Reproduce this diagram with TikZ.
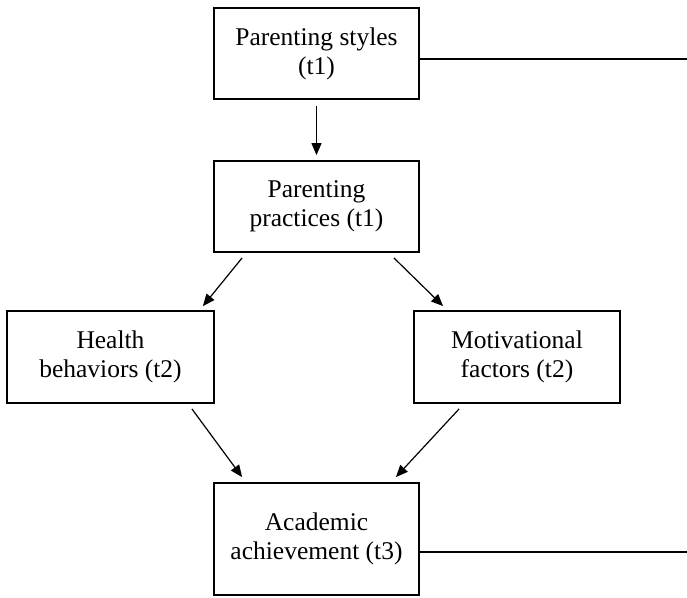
\documentclass[tikz,border=0pt]{standalone}
\usepackage{fontspec}
\setmainfont{Liberation Serif}
\usetikzlibrary{arrows.meta,positioning}

\begin{document}
\begin{tikzpicture}[x=1pt,y=1pt,
  box/.style={draw, line width=1.8pt, minimum width=205pt, minimum height=91pt,
    inner sep=0pt, align=center, font=\fontsize{25.5}{29}\selectfont},
  arr/.style={line width=1.2pt, -{Triangle[length=12pt,width=10pt]}},
  link/.style={line width=1.2pt}]
\useasboundingbox (0,0) rectangle (687,-597);
\node[box] (styles) at (316.5,-53.5) {Parenting styles\\(t1)};
\node[box] (prac) at (316.5,-206.5) {Parenting\\practices (t1)};
\node[box, minimum width=207pt, minimum height=92pt] (health) at (110.5,-357) {Health\\behaviors (t2)};
\node[box, minimum width=206pt, minimum height=92pt] (motiv) at (517,-357) {Motivational\\factors (t2)};
\node[box, minimum height=112pt] (acad) at (316.5,-539) {Academic\\achievement (t3)};
\coordinate (rimT) at (687,-59);
\coordinate (rimB) at (687,-552);
% arrows
\draw[arr] ([yshift=-6pt]styles.south) -- ([yshift=5pt]prac.north);
\draw[arr] ([xshift=29pt,yshift=-5pt]prac.south west) -- ([xshift=-12pt,yshift=4pt]health.north east);
\draw[arr] ([xshift=-26pt,yshift=-5pt]prac.south east) -- ([xshift=30pt,yshift=4pt]motiv.north west);
\draw[arr] ([xshift=-23pt,yshift=-5pt]health.south east) -- ([xshift=29pt,yshift=5pt]acad.north west);
\draw[arr] ([xshift=46pt,yshift=-5pt]motiv.south west) -- ([xshift=-24pt,yshift=5pt]acad.north east);
% open ends
\draw[link] (styles.east |- rimT) -- (rimT);
\draw[link] (acad.east |- rimB) -- (rimB);
\end{tikzpicture}
\end{document}
